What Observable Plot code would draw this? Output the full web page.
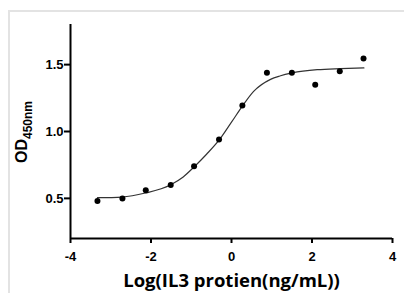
<!DOCTYPE html>
<html>
<head>
<meta charset="utf-8">
<script src="https://cdn.jsdelivr.net/npm/d3@7"></script>
<script src="https://cdn.jsdelivr.net/npm/@observablehq/plot@0.6"></script>
<style>
  html, body { margin: 0; padding: 0; background: #fff; }
  #wrap { position: relative; width: 404px; height: 293px; overflow: hidden; }
  #frame { position: absolute; left: 8px; top: 10px; right: -5px; bottom: -5px; border-left: 2px solid #e3e3e3; border-top: 2px solid #e3e3e3; }
  #chart { position: absolute; left: 0; top: 0; }
</style>
</head>
<body>
<div id="wrap"><div id="frame"></div><div id="chart"></div></div>
<script>
// Measured points
const logConc = [-3.33, -2.71, -2.13, -1.51, -0.93, -0.31, 0.27, 0.88, 1.50, 2.08, 2.69, 3.28];
const od450   = [0.48, 0.50, 0.56, 0.60, 0.74, 0.94, 1.195, 1.44, 1.44, 1.35, 1.45, 1.545];
// Fitted curve
const curveX = [-3.33, -2.72, -2.14, -1.52, -1.2, -0.93, -0.62, -0.31, 0.0, 0.27, 0.55, 0.97, 1.2, 1.51, 2.13, 2.71, 3.29];
const curveY = [0.505, 0.51, 0.54, 0.60, 0.66, 0.735, 0.83, 0.935, 1.07, 1.19, 1.30, 1.39, 1.415, 1.438, 1.462, 1.47, 1.475];
const xTicks = [-4, -2, 0, 2, 4];
const yTicks = [0.5, 1.0, 1.5];
const xLabel = "Log(IL3 protien(ng/mL))";

const points = logConc.map((x, i) => ({x, y: od450[i]}));
const curve = curveX.map((x, i) => ({x, y: curveY[i]}));

const tickFont = {fontFamily: "'Liberation Sans', Arial, sans-serif", fontWeight: "bold", fontSize: 13};

const plot = Plot.plot({
  width: 404,
  height: 293,
  marginLeft: 70,
  marginRight: 12,
  marginTop: 24,
  marginBottom: 55,
  style: {background: "transparent", color: "#000", fontFamily: "'Liberation Sans', Arial, sans-serif", fontSize: "13px", fontWeight: "bold"},
  x: {domain: [-4, 4]},
  y: {domain: [0.2, 1.8]},
  marks: [
    Plot.axisX({ticks: xTicks, tickFormat: d => String(d), tickSize: 5, tickPadding: 8, strokeWidth: 2, label: null, ...tickFont}),
    Plot.axisY({ticks: yTicks, tickFormat: d => d.toFixed(1), tickSize: 6, tickPadding: 1, strokeWidth: 2, label: null, ...tickFont}),
    Plot.ruleX([-4], {stroke: "#000", strokeWidth: 2}),
    Plot.ruleY([0.2], {stroke: "#000", strokeWidth: 2}),
    Plot.line(curve, {x: "x", y: "y", stroke: "#333", strokeWidth: 1.2, curve: "monotone-x"}),
    Plot.dot(points, {x: "x", y: "y", r: 3, fill: "#000", stroke: "none"}),
    Plot.text([xLabel], {frameAnchor: "bottom", text: d => d, dy: 43, dx: 0, lineAnchor: "middle", fontFamily: "'Open Sans', 'Noto Sans', sans-serif", fontWeight: "bold", fontSize: 18.5, fill: "#000"})
  ]
});

document.getElementById("chart").appendChild(plot);

// y-axis label with subscript
const svg = d3.select(plot);
const yl = svg.append("text")
  .attr("transform", "translate(27,132) rotate(-90)")
  .attr("text-anchor", "middle")
  .attr("font-family", "'Liberation Sans', Arial, sans-serif")
  .attr("font-weight", "bold")
  .attr("fill", "#000");
yl.append("tspan").attr("font-size", 16).text("OD");
yl.append("tspan").attr("font-size", 12).attr("dy", 5).text("450nm");
</script>
</body>
</html>
